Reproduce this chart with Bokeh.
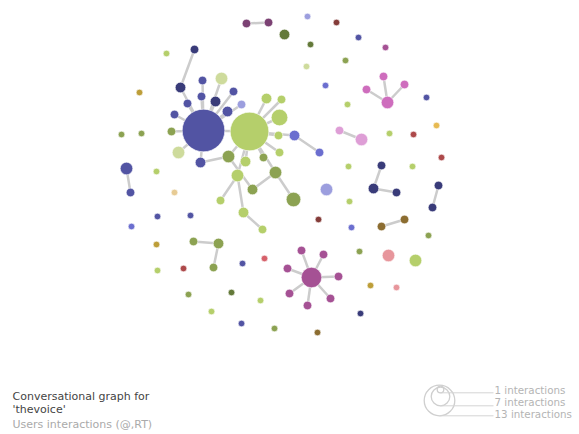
from bokeh.plotting import figure
from bokeh.models import Range1d, ColumnDataSource
from bokeh.core.properties import value
from bokeh.embed import file_html
from bokeh.resources import INLINE

# ---- data: node layout (x, y), interactions count, colour ----
node_x = [203, 249, 180, 194, 202, 221, 187, 201, 215, 233, 241, 227, 174, 171, 178, 200,
          266, 281, 279, 278, 294, 319, 279, 263, 245, 228, 237, 252, 220, 243, 275, 262, 293,
          246, 268, 284, 307, 336, 310, 345, 306, 358, 385, 325, 347, 387, 383, 366, 404,
          426, 436, 389, 413, 441, 339, 361, 348, 412, 381, 373, 396, 438, 432, 381, 404,
          428, 388, 415, 359, 396, 370, 360, 317, 274, 326, 349, 318, 351, 264,
          311, 301, 323, 287, 338, 289, 307, 330,
          166, 139, 121, 141, 126, 130, 156, 174, 157, 190, 131, 156, 193, 218, 213, 157,
          183, 242, 188, 231, 211, 260, 241]
node_y = [130, 131, 87, 49, 80, 78, 103, 96, 101, 91, 104, 111, 114, 131, 152, 162,
          98, 99, 117, 135, 135, 152, 152, 157, 161, 156, 175, 189, 200, 212, 172, 229, 199,
          23, 22, 34, 16, 22, 44, 60, 66, 37, 47, 85, 104, 102, 76, 89, 84,
          97, 125, 133, 134, 157, 130, 139, 166, 166, 165, 188, 192, 185, 207, 226, 219,
          235, 255, 260, 251, 287, 285, 313, 332, 328, 189, 201, 219, 227, 258,
          277, 250, 254, 268, 276, 293, 305, 298,
          53, 92, 134, 133, 168, 192, 171, 192, 216, 215, 226, 244, 241, 243, 267, 270,
          268, 263, 294, 292, 311, 300, 323]
interactions = [19, 17, 3, 2, 2, 4, 2, 2, 3, 2, 2, 3, 2, 2, 4, 3,
                3, 2, 6, 2, 3, 2, 2, 2, 3, 4, 4, 3, 2, 3, 4, 2, 5,
                2, 2, 3, 1, 1, 1, 1, 1, 1, 1, 1, 1, 4, 2, 2, 2,
                1, 1, 1, 1, 1, 2, 4, 1, 1, 2, 3, 2, 2, 2, 2, 2,
                1, 4, 4, 1, 1, 1, 1, 1, 1, 4, 1, 1, 1, 1,
                8, 2, 2, 2, 2, 2, 2, 2,
                1, 1, 1, 1, 4, 2, 1, 1, 1, 1, 1, 1, 2, 3, 2, 1,
                1, 1, 1, 1, 1, 1, 1]
node_color = ["#5254a3", "#b5cf6b", "#393b79", "#393b79", "#5254a3", "#cedb9c", "#5254a3", "#5254a3",
              "#393b79", "#5254a3", "#9c9ede", "#5254a3", "#5254a3", "#8ca252", "#cedb9c", "#5254a3",
              "#b5cf6b", "#b5cf6b", "#b5cf6b", "#b5cf6b", "#6b6ecf", "#6b6ecf", "#b5cf6b", "#8ca252",
              "#b5cf6b", "#8ca252", "#b5cf6b", "#8ca252", "#b5cf6b", "#b5cf6b", "#8ca252", "#b5cf6b", "#8ca252",
              "#7b4173", "#7b4173", "#637939", "#9c9ede", "#843c39", "#637939", "#8ca252", "#cedb9c",
              "#5254a3", "#a55194", "#6b6ecf", "#b5cf6b", "#ce6dbd", "#ce6dbd", "#ce6dbd", "#ce6dbd",
              "#5254a3", "#e7ba52", "#b5cf6b", "#ad494a", "#ad494a", "#de9ed6", "#de9ed6", "#b5cf6b",
              "#b5cf6b", "#393b79", "#393b79", "#393b79", "#393b79", "#393b79", "#8c6d31", "#8c6d31",
              "#8ca252", "#e7969c", "#b5cf6b", "#8ca252", "#e7969c", "#bd9e39", "#393b79", "#8c6d31",
              "#8ca252", "#9c9ede", "#b5cf6b", "#843c39", "#6b6ecf", "#d6616b",
              "#a55194", "#a55194", "#a55194", "#a55194", "#a55194", "#a55194", "#a55194", "#a55194",
              "#b5cf6b", "#bd9e39", "#8ca252", "#8ca252", "#5254a3", "#5254a3", "#b5cf6b", "#e7cb94",
              "#5254a3", "#5254a3", "#6b6ecf", "#bd9e39", "#8ca252", "#8ca252", "#8ca252", "#b5cf6b",
              "#ad494a", "#5254a3", "#8ca252", "#637939", "#b5cf6b", "#b5cf6b", "#5254a3"]

edges = [(0, 1), (0, 2), (2, 3), (0, 4), (0, 5), (0, 6), (0, 7), (0, 8), (0, 9), (0, 10),
         (0, 11), (0, 12), (0, 13), (0, 14), (0, 15),
         (1, 16), (1, 17), (1, 18), (1, 19), (1, 20), (20, 21), (1, 22), (1, 23), (1, 24),
         (1, 25), (15, 25), (25, 27), (27, 30), (1, 26), (26, 28), (26, 29), (29, 31),
         (1, 30), (30, 32),
         (33, 34), (45, 46), (45, 47), (45, 48), (54, 55), (58, 59), (59, 60), (61, 62),
         (63, 64), (79, 80), (79, 81), (79, 82), (79, 83), (79, 84), (79, 85), (79, 86),
         (91, 92), (99, 100), (100, 101)]

legend_values = [1, 7, 13]
legend_labels = ["1 interactions", "7 interactions", "13 interactions"]
title_lines = ["Conversational graph for", "'thevoice'"]
subtitle = "Users interactions (@,RT)"


def radius(n):
    return 2.3 + n


p = figure(width=579, height=434, output_backend="svg", toolbar_location=None,
           x_range=Range1d(0, 579), y_range=Range1d(434, 0), min_border=0)
p.axis.visible = False
p.grid.visible = False
p.outline_line_color = None
p.background_fill_color = "white"

# edges
p.segment(x0=[node_x[a] for a, b in edges], y0=[node_y[a] for a, b in edges],
          x1=[node_x[b] for a, b in edges], y1=[node_y[b] for a, b in edges],
          line_color="#cccccc", line_width=2.5)

# nodes
src = ColumnDataSource(dict(x=node_x, y=node_y,
                            size=[2 * radius(n) for n in interactions],
                            color=node_color))
p.scatter("x", "y", size="size", fill_color="color", line_color="white",
          line_width=0.6, source=src)

# size legend
leg_cx = [440, 440, 439]
leg_cy = [389, 396, 400]
leg_r = [radius(v) for v in legend_values]
p.scatter(leg_cx, leg_cy, size=[2 * r for r in leg_r], fill_color=None,
          line_color="#cfcfcf", line_width=1.3)
line_y = [cy + r for cy, r in zip(leg_cy, leg_r)]
p.segment(x0=leg_cx, y0=line_y, x1=[493] * 3, y1=line_y, line_color="#d4d4d4", line_width=1)
p.text(x=[494] * 3, y=[389, 401, 413], text=legend_labels, text_color="#b4b4b4",
       text_font=value("DejaVu Sans"), text_font_size="10.3px", text_baseline="middle")

# title
p.text(x=[12, 12], y=[396, 409], text=title_lines, text_color="#444444",
       text_font=value("DejaVu Sans"), text_font_size="11px", text_baseline="middle")
p.text(x=[12], y=[424], text=[subtitle], text_color="#aaaaaa",
       text_font=value("DejaVu Sans"), text_font_size="11px", text_baseline="middle")

open("out.html", "w").write(file_html(p, INLINE))
